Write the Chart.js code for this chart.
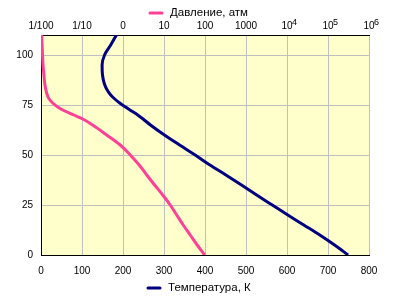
<!DOCTYPE html>
<html lang="ru">
<head>
    <meta charset="UTF-8">
    <title>Атмосфера Венеры</title>
    <script src="https://cdn.jsdelivr.net/npm/chart.js"></script>
    <style>
        html, body { margin: 0; padding: 0; background: #fff; }
        canvas { display: block; }
    </style>
</head>
<body>
    <canvas id="venusChart" width="400" height="300"></canvas>

    <script>
        // altitude, km (shared by both series)
        const altitudes = [0, 5, 10, 15, 20, 25, 30, 35, 40, 45, 50, 55, 60, 65, 68, 70, 72, 74, 76, 78, 80, 83, 86, 90, 95, 100, 105, 110];
        // temperature, K
        const temperatures = [749, 716, 680, 641, 602, 564, 526, 489, 451, 412, 376, 338, 301, 267, 249, 236, 221, 206, 192, 180, 170, 160, 154, 150, 149, 155, 170, 184];
        // pressure, atm
        const pressures = [98, 64.5, 43.6, 29.4, 20.4, 14.2, 9.3, 5.9, 3.8, 2.48, 1.5, 0.855, 0.4, 0.182, 0.104, 0.063, 0.038, 0.0255, 0.0193, 0.0158, 0.0142, 0.013, 0.0123, 0.0118, 0.0112, 0.0109, 0.0106, 0.0104];

        const seriesLabels = ['Давление, атм', 'Температура, К'];
        const altitudeTicks = [0, 25, 50, 75, 100];
        const pressureTicks = [0.01, 0.1, 1, 10, 100, 1000, 1e4, 1e5, 1e6];
        const pressureTickLabels = ['1/100', '1/10', '0', '10', '100', '1000', '10', '10', '10'];
        const pressureTickPowers = ['', '', '', '', '', '', '4', '5', '6'];

        const pink = '#ff4096';
        const navy = '#000080';
        const fontFamily = '"Liberation Sans", Arial, sans-serif';
        const tickFont = { family: fontFamily, size: 10 };

        // yellow plot area
        const plotBackground = {
            id: 'plotBackground',
            beforeDraw(chart) {
                const { ctx, chartArea: a } = chart;
                ctx.save();
                ctx.fillStyle = '#ffffcc';
                ctx.fillRect(a.left, a.top, a.right - a.left, a.bottom - a.top);
                ctx.restore();
            }
        };

        // raised exponents for 10^4 .. 10^6 on the pressure axis
        const tickPowers = {
            id: 'tickPowers',
            afterDraw(chart) {
                const ctx = chart.ctx;
                const scale = chart.scales.x2;
                ctx.save();
                ctx.font = '9px ' + fontFamily;
                ctx.fillStyle = '#000';
                ctx.textBaseline = 'alphabetic';
                ctx.textAlign = 'left';
                pressureTicks.forEach((v, i) => {
                    if (!pressureTickPowers[i]) return;
                    const x = scale.getPixelForValue(v);
                    ctx.fillText(pressureTickPowers[i], x + 5, chart.chartArea.top - 10);
                });
                ctx.restore();
            }
        };

        // one legend on top (pressure), one at the bottom (temperature)
        const splitLegend = {
            id: 'splitLegend',
            afterDraw(chart) {
                const ctx = chart.ctx;
                const items = [
                    { color: pink, text: seriesLabels[0], x: 149, y: 13 },
                    { color: navy, text: seriesLabels[1], x: 147, y: 288 }
                ];
                ctx.save();
                ctx.font = '11.5px ' + fontFamily;
                ctx.textBaseline = 'middle';
                ctx.fillStyle = '#000';
                items.forEach(it => {
                    ctx.strokeStyle = it.color;
                    ctx.lineWidth = 3;
                    ctx.lineCap = 'round';
                    ctx.beginPath();
                    ctx.moveTo(it.x + 1, it.y);
                    ctx.lineTo(it.x + 13, it.y);
                    ctx.stroke();
                    ctx.fillText(it.text, it.x + 21, it.y);
                });
                ctx.restore();
            }
        };

        new Chart(document.getElementById('venusChart'), {
            type: 'scatter',
            data: {
                datasets: [
                    {
                        label: seriesLabels[0],
                        xAxisID: 'x2',
                        yAxisID: 'y',
                        indexAxis: 'y',
                        data: altitudes.map((h, i) => ({ x: pressures[i], y: h })),
                        borderColor: pink,
                        borderWidth: 3,
                        showLine: true,
                        pointRadius: 0,
                        cubicInterpolationMode: 'monotone'
                    },
                    {
                        label: seriesLabels[1],
                        xAxisID: 'x',
                        yAxisID: 'y',
                        indexAxis: 'y',
                        data: altitudes.map((h, i) => ({ x: temperatures[i], y: h })),
                        borderColor: navy,
                        borderWidth: 3,
                        showLine: true,
                        pointRadius: 0,
                        cubicInterpolationMode: 'monotone'
                    }
                ]
            },
            options: {
                responsive: false,
                animation: false,
                layout: { padding: { left: 0, right: 31, top: 0, bottom: 0 } },
                plugins: {
                    legend: { display: false },
                    tooltip: { enabled: false }
                },
                scales: {
                    x: {
                        type: 'linear',
                        position: 'bottom',
                        min: 0,
                        max: 800,
                        afterFit: s => { s.height = 45; },
                        grid: { color: '#c0c0c0', drawTicks: false },
                        border: { color: '#000', width: 1 },
                        ticks: { stepSize: 100, color: '#000', font: tickFont, padding: 10, maxRotation: 0 }
                    },
                    x2: {
                        type: 'logarithmic',
                        position: 'top',
                        min: 0.01,
                        max: 1e6,
                        afterFit: s => { s.height = 35; },
                        afterBuildTicks: s => { s.ticks = pressureTicks.map(v => ({ value: v })); },
                        grid: { drawOnChartArea: false, drawTicks: false },
                        border: { color: '#000', width: 1 },
                        ticks: {
                            color: '#000',
                            font: tickFont,
                            padding: 3,
                            autoSkip: false,
                            maxRotation: 0,
                            callback: (v, i) => pressureTickLabels[i]
                        }
                    },
                    y: {
                        type: 'linear',
                        position: 'left',
                        min: 0,
                        max: 110,
                        afterFit: s => { s.width = 41; },
                        afterBuildTicks: s => { s.ticks = altitudeTicks.map(v => ({ value: v })); },
                        grid: { color: '#c0c0c0', drawTicks: false },
                        border: { color: '#000', width: 1 },
                        ticks: { color: '#000', font: tickFont, padding: 8 }
                    }
                }
            },
            plugins: [plotBackground, tickPowers, splitLegend]
        });
    </script>
</body>
</html>
